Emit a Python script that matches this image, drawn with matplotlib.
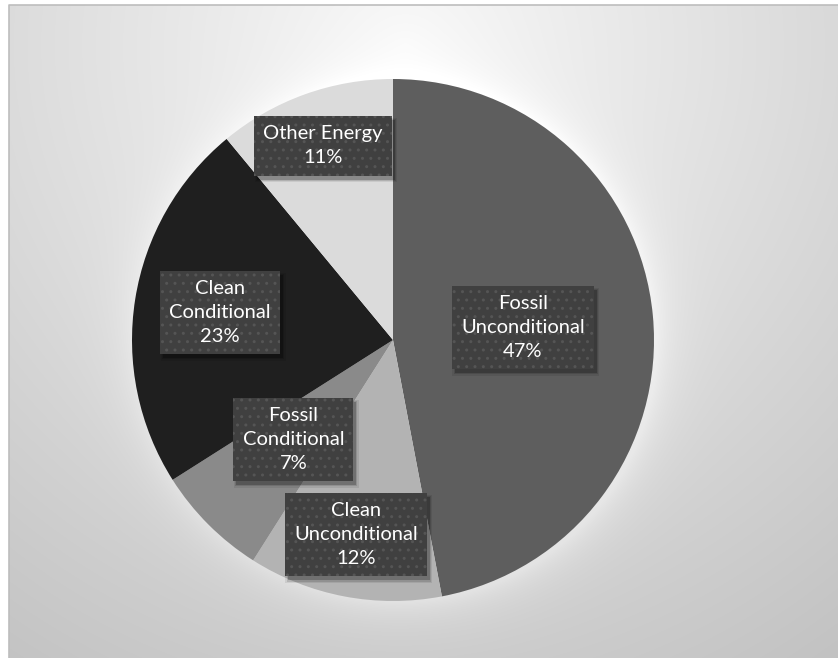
import numpy as np
import matplotlib
matplotlib.use("Agg")
import matplotlib.pyplot as plt
from matplotlib.patches import Rectangle

# Slice data, clockwise from 12 o'clock.
names = ["Fossil\nUnconditional", "Clean\nUnconditional", "Fossil\nConditional",
         "Clean\nConditional", "Other Energy"]
shares = [47, 12, 7, 23, 11]
slice_colors = ["#5e5e5e", "#b3b3b3", "#8a8a8a", "#1f1f1f", "#dbdbdb"]
label_dist = [0.50, 0.76, 0.54, 0.67, 0.79]

W, H = 838, 658
fig = plt.figure(figsize=(W / 100, H / 100), dpi=100)
ax = fig.add_axes([0, 0, 1, 1])

cx, cy, rad = 393, H - 340, 261

# Background: light spot at the top, soft glow around the pie.
yy, xx = np.mgrid[0:H, 0:W]
d = np.hypot(xx - 400, yy - 40)
bg = 0.975 - 0.21 * d / 740
r = np.hypot(xx - cx, yy - (H - cy)) / rad
glow = 0.07 * np.exp(-np.clip(r - 1, 0, None) / 0.08)
bg = np.clip(bg + glow, 0, 1)
ax.imshow(np.dstack([bg, bg, bg]), extent=(9, W, 0, H - 5), origin="upper",
          zorder=0, interpolation="bilinear")
ax.plot([9, 9, W], [0, H - 5, H - 5], color="#bdbdbd", lw=1.2, zorder=1)

wedges, _ = ax.pie(shares, colors=slice_colors, startangle=90, counterclock=False,
                   center=(cx, cy), radius=rad, wedgeprops=dict(linewidth=0))
for w in wedges:
    w.set_zorder(2)

ax.set_xlim(0, W)
ax.set_ylim(0, H)
ax.set_aspect("auto")
ax.axis("off")

labels = []
for w, name, val, ld in zip(wedges, names, shares, label_dist):
    mid = np.deg2rad((w.theta1 + w.theta2) / 2)
    x = cx + rad * ld * np.cos(mid)
    y = cy + rad * ld * np.sin(mid)
    t = ax.text(x, y, f"{name}\n{val}%", ha="center", va="center", color="white",
                fontsize=14.5, family=["Lato", "DejaVu Sans"], linespacing=1.5, zorder=5,
                bbox=dict(boxstyle="square,pad=0.45", fc="#404040", ec="#555555",
                          lw=0, hatch=".."))
    labels.append(t)

# soft drop shadow behind each label box
fig.canvas.draw()
inv = ax.transData.inverted()
for t in labels:
    bb = t.get_bbox_patch().get_window_extent()
    (x0, y0), (x1, y1) = inv.transform([(bb.x0 + 3, bb.y0 - 4), (bb.x1 + 3, bb.y1 - 4)])
    for grow, a in [(2.5, 0.08), (1.2, 0.12), (0, 0.22)]:
        ax.add_patch(Rectangle((x0 - grow, y0 - grow), x1 - x0 + 2 * grow,
                               y1 - y0 + 2 * grow, fc="black", alpha=a, lw=0, zorder=4))

fig.savefig("out.png", dpi=100, facecolor="white")
